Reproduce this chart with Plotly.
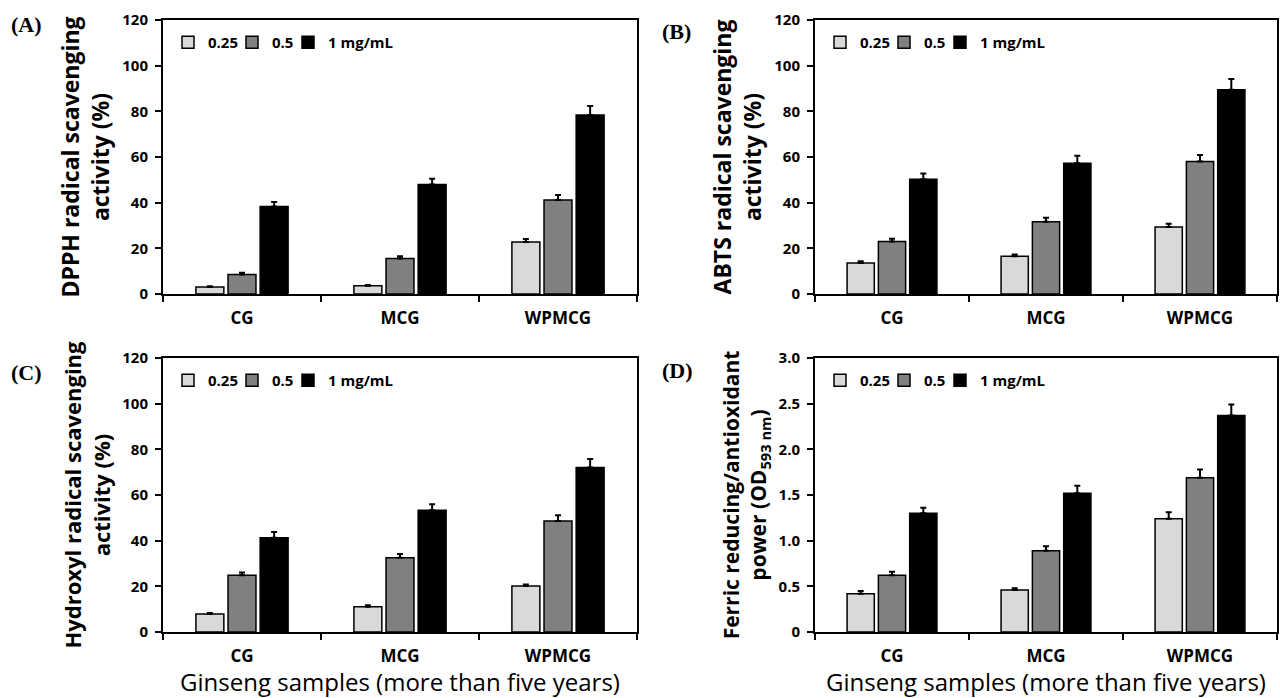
import plotly.graph_objects as go

categories = ["CG", "MCG", "WPMCG"]
series_names = ["0.25", "0.5", "1 mg/mL"]
series_colors = ["#d9d9d9", "#808080", "#000000"]

# (A) DPPH radical scavenging activity (%)
dpph_vals = [[3.1, 3.6, 22.8], [8.5, 15.5, 41.2], [38.3, 48.0, 78.4]]
dpph_err = [[0.3, 0.3, 1.3], [0.8, 1.0, 2.2], [2.0, 2.5, 3.9]]
# (B) ABTS radical scavenging activity (%)
abts_vals = [[13.6, 16.5, 29.3], [23.0, 31.6, 58.0], [50.3, 57.3, 89.4]]
abts_err = [[0.7, 0.8, 1.5], [1.2, 1.8, 2.9], [2.5, 3.2, 4.8]]
# (C) Hydroxyl radical scavenging activity (%)
hydroxyl_vals = [[7.9, 11.1, 20.1], [24.9, 32.5, 48.6], [41.3, 53.3, 72.0]]
hydroxyl_err = [[0.4, 0.6, 0.7], [1.2, 1.7, 2.5], [2.5, 2.7, 3.8]]
# (D) Ferric reducing/antioxidant power (OD593 nm)
frap_vals = [[0.42, 0.46, 1.24], [0.62, 0.89, 1.69], [1.30, 1.52, 2.37]]
frap_err = [[0.03, 0.02, 0.07], [0.04, 0.05, 0.09], [0.06, 0.08, 0.12]]

pct_ticks = [0, 20, 40, 60, 80, 100, 120]
pct_ticktext = ["0", "20", "40", "60", "80", "100", "120"]
od_ticks = [0, 0.5, 1.0, 1.5, 2.0, 2.5, 3.0]
od_ticktext = ["0", "0.5", "1.0", "1.5", "2.0", "2.5", "3.0"]

panel_labels = ["(A)", "(B)", "(C)", "(D)"]
y_titles = [
    "DPPH radical scavenging<br>activity (%)",
    "ABTS radical scavenging<br>activity (%)",
    "Hydroxyl radical scavenging<br>activity (%)",
    "Ferric reducing/antioxidant<br>power (OD<sub>593 nm</sub>)",
]
x_title = "Ginseng samples (more than five years)"

W, H = 1280, 698
FONT = "Open Sans"

panels = [
    dict(vals=dpph_vals, err=dpph_err, ticks=pct_ticks, tt=pct_ticktext, rng=[0, 120], tsize=23),
    dict(vals=abts_vals, err=abts_err, ticks=pct_ticks, tt=pct_ticktext, rng=[0, 120], tsize=23),
    dict(vals=hydroxyl_vals, err=hydroxyl_err, ticks=pct_ticks, tt=pct_ticktext, rng=[0, 120], tsize=22),
    dict(vals=frap_vals, err=frap_err, ticks=od_ticks, tt=od_ticktext, rng=[0, 3.0], tsize=21),
]

# plot-area pixel boxes (left, right, top, bottom)
boxes = [(163, 637, 20, 294), (815, 1277, 20, 294), (163, 637, 358, 632), (815, 1277, 358, 632)]
label_pos = [(9, 24), (660, 31), (9, 372), (660, 370)]
legend_widths = [19, 11, 0]

fig = go.Figure()
layout = dict(
    width=W, height=H, margin=dict(l=0, r=0, t=0, b=0, autoexpand=False),
    paper_bgcolor="white", plot_bgcolor="white",
    barmode="group", bargap=0.39, bargroupgap=0.13,
    font=dict(family=FONT, color="black"),
    annotations=[],
)

for i, p in enumerate(panels):
    n = "" if i == 0 else str(i + 1)
    xa, ya = "x" + n, "y" + n
    leg = "legend" + n
    for s in range(3):
        tr = dict(
            x=categories, y=p["vals"][s], name=series_names[s],
            xaxis=xa, yaxis=ya, legend=leg,
            marker=dict(color=series_colors[s], line=dict(color="black", width=1.5)),
            error_y=dict(type="data", array=p["err"][s], arrayminus=[0, 0, 0],
                         symmetric=False, color="black", thickness=2, width=3),
        )
        if legend_widths[s]:
            tr["legendwidth"] = legend_widths[s]
        fig.add_trace(go.Bar(**tr))
    l, r, t, b = boxes[i]
    bottom_row = i >= 2
    xax = dict(
        domain=[l / W, r / W], anchor=ya, automargin=False,
        showline=True, linecolor="black", linewidth=2, mirror=True,
        ticks="outside", tickson="boundaries", ticklen=6, tickwidth=2, tickcolor="black",
        tickfont=dict(family=FONT, size=17, color="black", weight="bold"),
        ticklabelstandoff=8,
        showgrid=False, zeroline=False,
    )
    if bottom_row:
        xax["title"] = dict(text=x_title, font=dict(family=FONT, size=24, color="black"), standoff=10)
    layout["xaxis" + n] = xax
    layout["yaxis" + n] = dict(
        domain=[1 - b / H, 1 - t / H], anchor=xa, range=p["rng"], automargin=False,
        tickvals=p["ticks"], ticktext=p["tt"],
        showline=True, linecolor="black", linewidth=2, mirror=True,
        ticks="outside", ticklen=6, tickwidth=2, tickcolor="black",
        tickfont=dict(family=FONT, size=15, color="black", weight="bold"),
        ticklabelstandoff=4,
        showgrid=False, zeroline=False,
        title=dict(text=y_titles[i], font=dict(family=FONT, size=p["tsize"], color="black", weight="bold"),
                   standoff=6),
    )
    layout[leg] = dict(
        x=(l + 5) / W, y=1 - (t + 6) / H, xanchor="left", yanchor="top",
        orientation="h", bgcolor="rgba(0,0,0,0)", borderwidth=0,
        font=dict(family=FONT, size=15, color="black", weight="bold"),
        itemwidth=30, tracegroupgap=0,
    )
    lx, ly = label_pos[i]
    layout["annotations"].append(dict(
        text="<b>" + panel_labels[i] + "</b>", xref="paper", yref="paper",
        x=lx / W, y=1 - ly / H,
        xanchor="left", yanchor="middle", showarrow=False,
        font=dict(family="Liberation Serif", size=22, color="black"),
    ))

fig.update_layout(**layout)
fig.write_html("out.html", config={"displayModeBar": False},
               post_script="document.body.style.margin='0';")
